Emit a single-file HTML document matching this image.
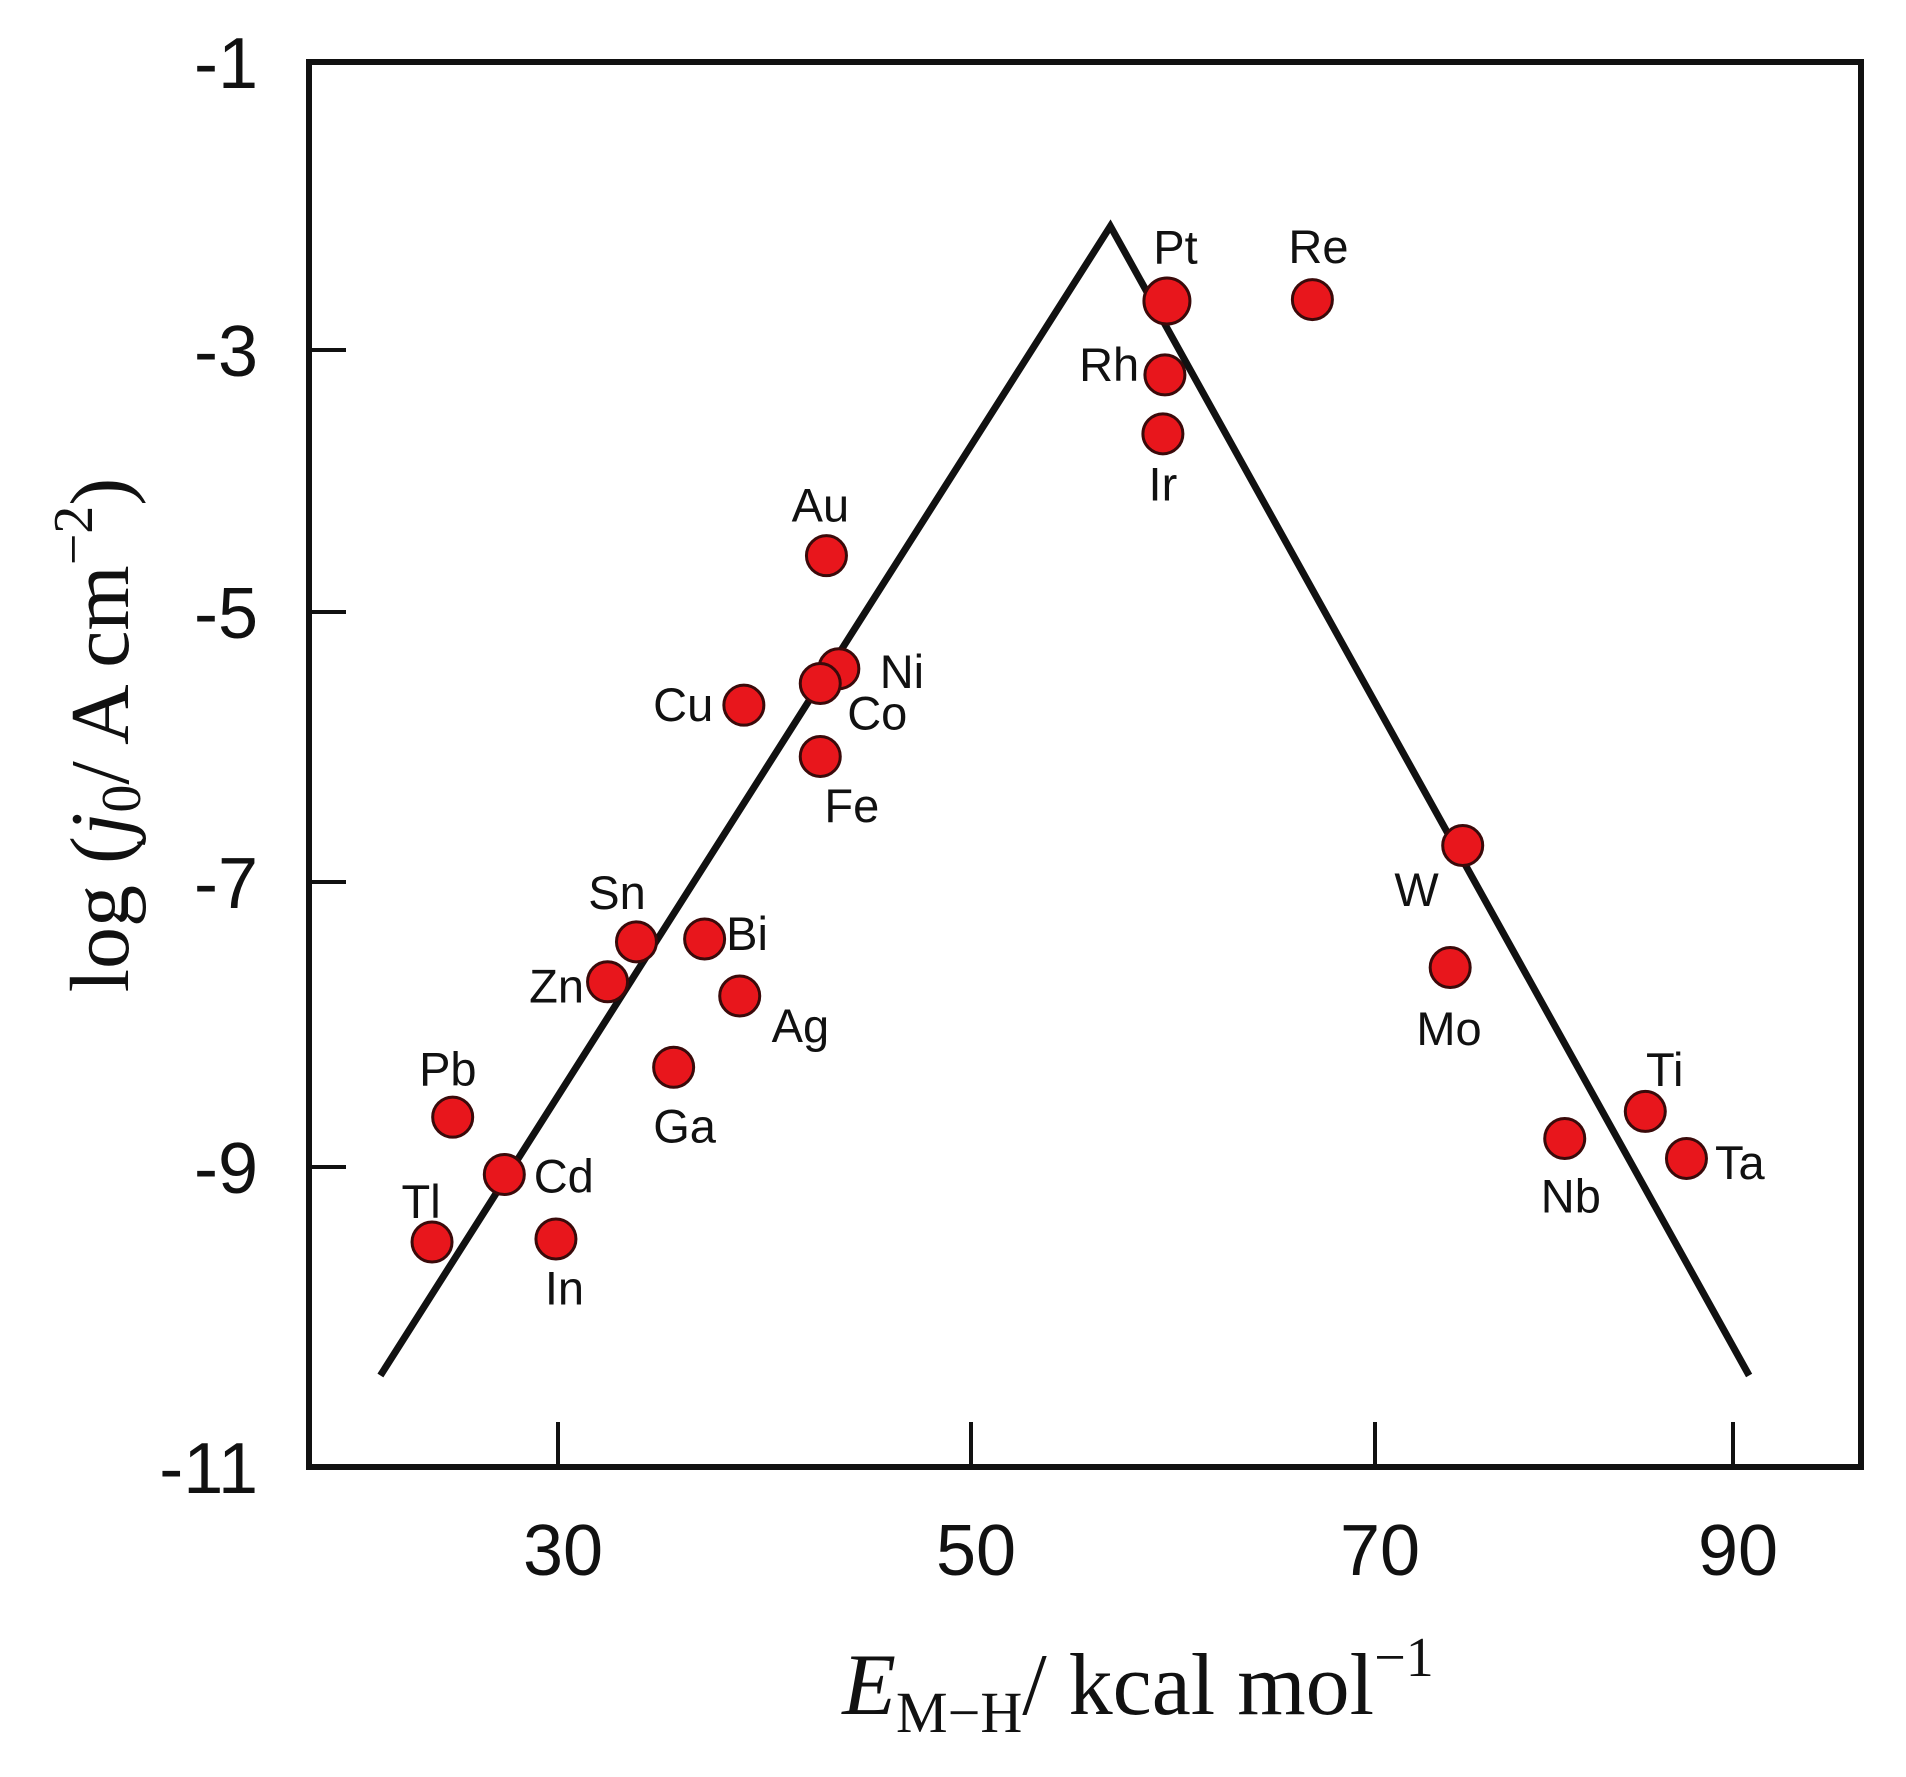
<!DOCTYPE html>
<html><head><meta charset="utf-8"><style>
html,body{margin:0;padding:0;background:#fff;}
svg{display:block;}
</style></head><body>
<svg id="chart" width="1906" height="1777" viewBox="0 0 1906 1777" xmlns="http://www.w3.org/2000/svg">
<rect x="0" y="0" width="1906" height="1777" fill="#fff"/>
<g id="axes"></g>
<g id="lines"></g>
<g id="points"></g>
<g id="labels"></g>
<text x="1138" y="1714" text-anchor="middle" font-family="Liberation Serif, serif" font-size="88" fill="#111"><tspan font-style="italic">E</tspan><tspan font-size="58" dy="18">M−H</tspan><tspan dy="-18">/ kcal mol</tspan><tspan font-size="56" dy="-38">−1</tspan></text>
<text transform="translate(128,735) rotate(-90)" text-anchor="middle" font-family="Liberation Serif, serif" font-size="84" fill="#111">log (<tspan font-style="italic">j</tspan><tspan font-size="56" dy="12">0</tspan><tspan dy="-12">/  A cm</tspan><tspan font-size="56" dy="-36">−2</tspan><tspan dy="36">)</tspan></text>
</svg>
<script>
const metals = ["Pt","Re","Rh","Ir","Au","Ni","Co","Cu","Fe","Sn","Bi","Zn","Ag","Ga","Pb","Cd","Tl","In","W","Mo","Ti","Nb","Ta"];
const energyValues = [59.7,66.9,59.6,59.5,43.0,43.6,42.7,39.0,42.7,33.8,37.1,32.4,38.8,35.6,24.9,27.4,23.9,29.9,74.9,74.2,85.1,80.6,87.4];
const logJ0Values = [-2.66,-2.65,-3.19,-3.64,-4.57,-5.42,-5.53,-5.69,-6.07,-7.42,-7.40,-7.70,-7.80,-8.30,-8.65,-9.05,-9.50,-9.48,-6.73,-7.60,-8.61,-8.80,-8.94];
const volcanoX = [21.4,56.9,90.9];
const volcanoY = [-10.39,-2.14,-10.39];
const xTickValues = [30,50,70,90];
const yTickValues = [-1,-3,-5,-7,-9,-11];
const xTickLabels = ["30","50","70","90"];
const yTickLabels = ["-1","-3","-5","-7","-9","-11"];

// layout (not data)
const plot = {left:309,right:1861,top:62,bottom:1467};
const xTickPx = [558,971,1375,1733];
const yTickPx = [62,350,612,882,1167,1467];
const labelOffsets = [[7,-45],[5,-44],[-46,-9],[0,41],[-5,-42],[52,2],[47,24],[-50,-1],[26,40],[-16,-41],[35,-5],[-42,3],[50,24],[9,48],[-4,-40],[49,1],[-9,-34],[7,40],[-38,36],[-1,50],[16,-35],[5,47],[44,3]];

function interp(v, vals, px){
  let i=0;
  if(vals[1]>vals[0]){ while(i<vals.length-2 && v>vals[i+1]) i++; }
  else { while(i<vals.length-2 && v<vals[i+1]) i++; }
  return px[i]+(v-vals[i])*(px[i+1]-px[i])/(vals[i+1]-vals[i]);
}
const xScale = v => interp(v, xTickValues, xTickPx);
const yScale = v => interp(v, yTickValues, yTickPx);
const NS="http://www.w3.org/2000/svg";
function mk(tag, attrs, parent){const e=document.createElementNS(NS,tag);for(const k in attrs)e.setAttribute(k,attrs[k]);parent.appendChild(e);return e;}

const axes=document.getElementById('axes');
const frame=mk('rect',{x:plot.left,y:plot.top,width:plot.right-plot.left,height:plot.bottom-plot.top,fill:'none',stroke:'#111','stroke-width':6},axes);


xTickValues.forEach((v,i)=>{
  const x=xScale(v);
  const t=mk('line',{x1:x,x2:x,y1:plot.bottom,y2:plot.bottom-45,stroke:'#111','stroke-width':4},axes);
  
  
  const l=mk('text',{x:x+5,y:plot.bottom+108,'text-anchor':'middle','font-family':'Liberation Sans, sans-serif','font-size':72,fill:'#111'},axes);
  l.textContent=xTickLabels[i];
  
  
});
yTickValues.forEach((v,i)=>{
  const y=yScale(v);
  if(i>0 && i<yTickValues.length-1){
    const t=mk('line',{x1:plot.left,x2:plot.left+37,y1:y,y2:y,stroke:'#111','stroke-width':4},axes);
    
    
  }
  const l=mk('text',{x:258,y:y+26,'text-anchor':'end','font-family':'Liberation Sans, sans-serif','font-size':72,fill:'#111'},axes);
  l.textContent=yTickLabels[i];
  
  
});

const lines=document.getElementById('lines');
const pl=mk('polyline',{points:volcanoX.map((v,i)=>xScale(v)+','+yScale(volcanoY[i])).join(' '),fill:'none',stroke:'#111','stroke-width':7,'stroke-linejoin':'miter'},lines);



const pts=document.getElementById('points'), lbs=document.getElementById('labels');
metals.forEach((m,i)=>{
  const cx=xScale(energyValues[i]), cy=yScale(logJ0Values[i]);
  const c=mk('circle',{cx:cx,cy:cy,r:m==='Pt'?23:20,fill:'#e8161c',stroke:'#3a0a0a','stroke-width':3},pts);
  
  
  const o=labelOffsets[i];
  const t=mk('text',{x:cx+o[0]*1.213,y:cy+o[1]*1.213+17,'text-anchor':'middle','font-family':'Liberation Sans, sans-serif','font-size':47,fill:'#111'},lbs);
  t.textContent=m;
  
  
});
</script>
</body></html>
